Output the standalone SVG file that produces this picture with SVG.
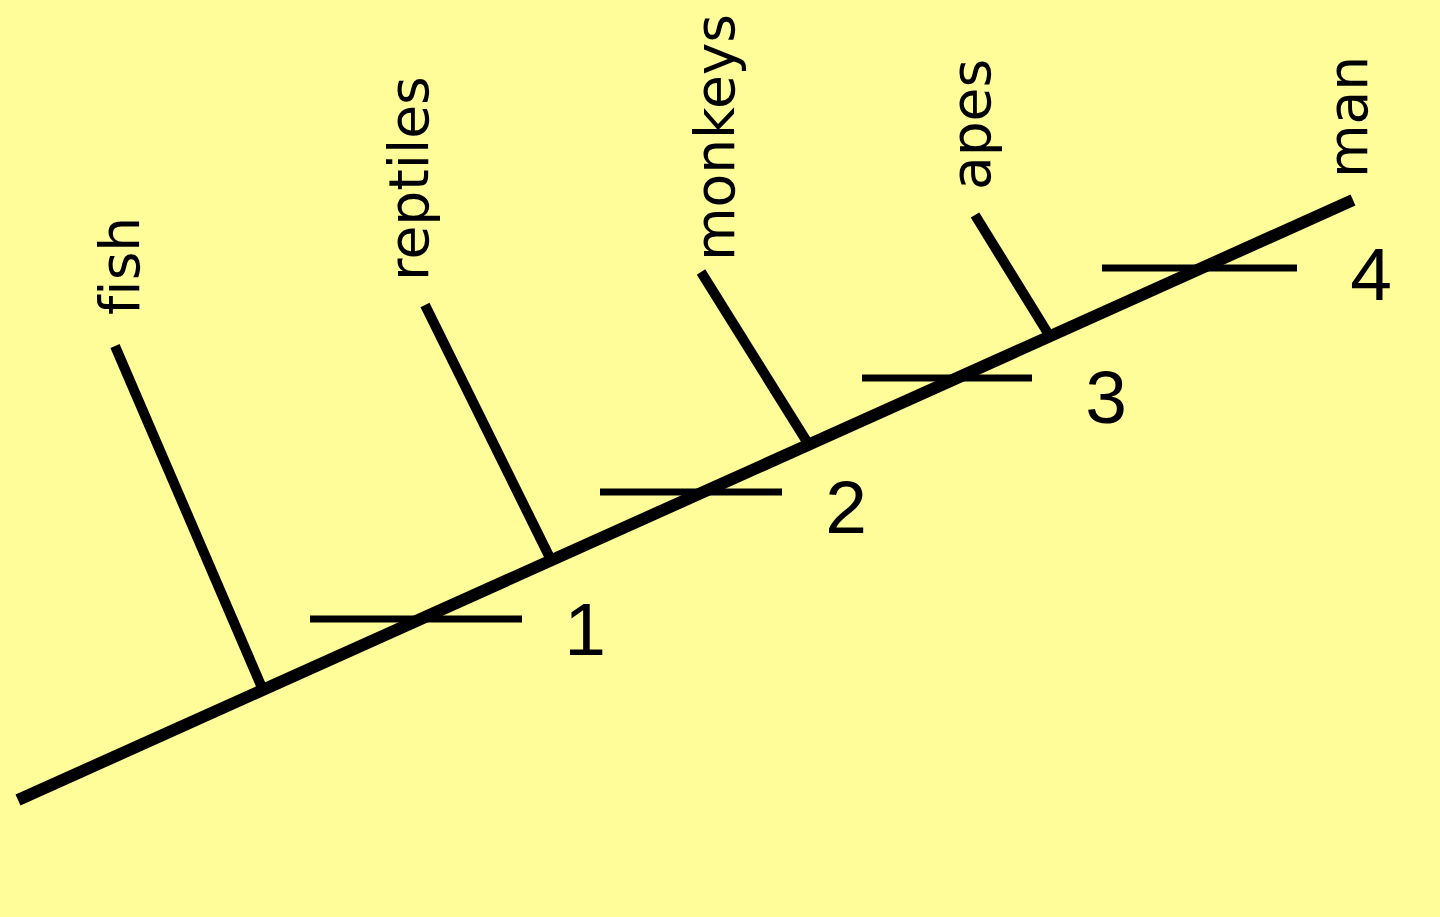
<svg xmlns="http://www.w3.org/2000/svg" width="1440" height="917" viewBox="0 0 1440 917">
  <style>
    .trunk { stroke: #000; stroke-width: 12; fill: none; stroke-linecap: butt; }
    .branch { stroke: #000; stroke-width: 10; fill: none; stroke-linecap: butt; }
    .tick { stroke: #000; stroke-width: 7; fill: none; }
    .taxon { font-family: "DejaVu Sans", "Liberation Sans", sans-serif; font-size: 55px; fill: #000; font-variant-ligatures: none; font-feature-settings: "liga" 0; }
    .num { font-family: "Liberation Sans", Arial, sans-serif; font-size: 75px; fill: #000; text-anchor: middle; }
  </style>
  <rect x="0" y="0" width="1440" height="917" fill="#FFFD9A"/>
  <g id="connectors">
    <line class="trunk" x1="18" y1="800" x2="1353" y2="200"/>
    <line class="branch" x1="115" y1="346" x2="263" y2="690"/>
    <line class="branch" x1="425" y1="305" x2="551" y2="560"/>
    <line class="branch" x1="701" y1="272" x2="809" y2="445"/>
    <line class="branch" x1="975" y1="215" x2="1049" y2="335"/>
  </g>
  <g id="fish"><text class="taxon" transform="translate(139,315) rotate(-90)">fish</text></g>
  <g id="reptiles"><text class="taxon" transform="translate(428,281) rotate(-90)">reptiles</text></g>
  <g id="monkeys"><text class="taxon" transform="translate(734,261) rotate(-90)">monkeys</text></g>
  <g id="apes"><text class="taxon" transform="translate(990,190) rotate(-90)">apes</text></g>
  <g id="man"><text class="taxon" transform="translate(1367,178) rotate(-90)">man</text></g>
  <g id="marker1">
    <line class="tick" x1="310" y1="619" x2="522" y2="619"/>
    <text class="num" x="585" y="655">1</text>
  </g>
  <g id="marker2">
    <line class="tick" x1="600" y1="492" x2="782" y2="492"/>
    <text class="num" x="846" y="533">2</text>
  </g>
  <g id="marker3">
    <line class="tick" x1="862" y1="378" x2="1032" y2="378"/>
    <text class="num" x="1106" y="423">3</text>
  </g>
  <g id="marker4">
    <line class="tick" x1="1102" y1="268" x2="1297" y2="268"/>
    <text class="num" x="1371" y="300">4</text>
  </g>
</svg>
